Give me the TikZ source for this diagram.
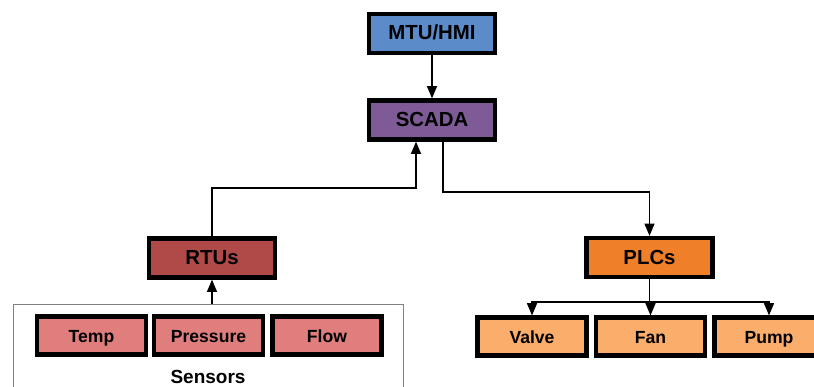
\documentclass[tikz,border=0pt]{standalone}
\usepackage{fontspec}
\setmainfont{Liberation Sans}
\usetikzlibrary{arrows,positioning}

\definecolor{mtublue}{HTML}{5B8BC8}
\definecolor{scadapurple}{HTML}{7E5A96}
\definecolor{rtured}{HTML}{B04A48}
\definecolor{sensorpink}{HTML}{E07E7E}
\definecolor{plcorange}{HTML}{F07F2A}
\definecolor{devorange}{HTML}{FBAE6C}

\begin{document}
\begin{tikzpicture}[x=0.025cm,y=-0.025cm,
	unit/.style={draw=black,line width=3pt,minimum width=3.15cm,minimum height=0.98cm,
		inner sep=0pt,text height=1.75ex,text depth=0pt,font=\fontsize{14.5}{17}\selectfont\bfseries},
	device/.style={draw=black,line width=3pt,minimum width=2.72cm,minimum height=0.95cm,
		inner sep=0pt,text height=1.75ex,text depth=0pt,font=\fontsize{12.5}{15}\selectfont\bfseries},
	link/.style={-triangle 45,line width=1pt}]
	\useasboundingbox (0,0) rectangle (814,387);

	\node[unit,fill=mtublue] (mtu) at (432,33.5) {MTU/HMI}
	node[unit,fill=scadapurple] (scada) at (432,120) {SCADA}
	node[unit,fill=rtured] (rtus) at (212,258) {RTUs}
	node[unit,fill=plcorange] (plcs) at (649.5,257.5) {PLCs};

	\node[draw=gray,line width=0.6pt,minimum width=9.75cm,minimum height=2.65cm] (sensors) at (208,357) {};
	\node[device,fill=sensorpink] (temp) at (91.5,335.5) {Temp}
	node[device,fill=sensorpink] (pressure) at (208.5,335.5) {Pressure}
	node[device,fill=sensorpink] (flow) at (327,335.5) {Flow}
	node[font=\fontsize{13.5}{16}\selectfont\bfseries] (sensorlabel) at (208,377) {Sensors};

	\node[device,fill=devorange] (valve) at (532,336.5) {Valve}
	node[device,fill=devorange] (fan) at (650.5,336.5) {Fan}
	node[device,fill=devorange] (pump) at (769,336.5) {Pump};

	\coordinate (rbend) at (416,188);
	\coordinate (pbend) at (443,192);
	\coordinate (split) at (649.5,302);

	\draw[link] (mtu) -- (scada);
	\draw[link] (rtus.north) |- (rbend) -- (rbend |- scada.south);
	\draw[link] (pbend |- scada.south) -- (pbend) -| (plcs.north);
	\draw[link] (rtus.south |- sensors.north) -- (rtus.south);
	\draw[line width=1pt] (plcs.south) -- (split);
	\foreach \dev in {valve,fan,pump}
		\draw[link] (split) -| (\dev.north);
\end{tikzpicture}
\end{document}
